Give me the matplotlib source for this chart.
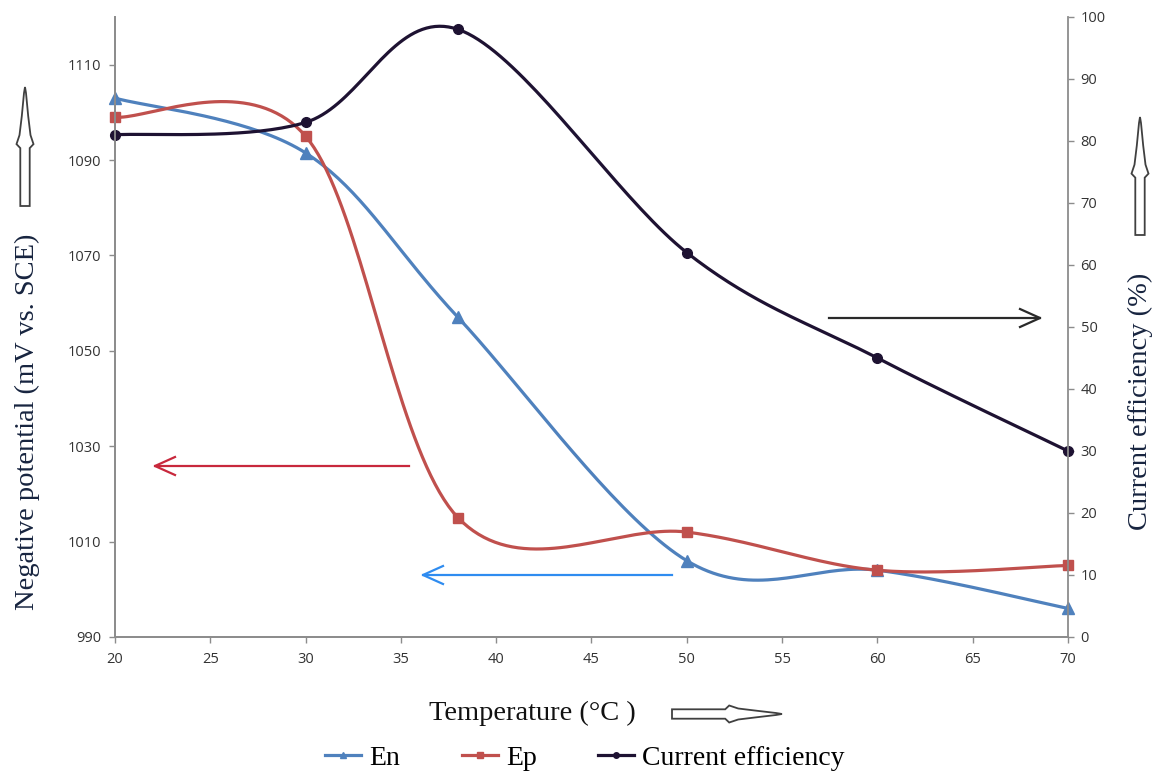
import numpy as np
import matplotlib
matplotlib.use("Agg")
import matplotlib.pyplot as plt
from matplotlib.patches import Polygon

# temperature (deg C)
temp = [20, 30, 38, 50, 60, 70]
# negative potentials, mV vs. SCE
en = [1103, 1091.5, 1057, 1006, 1004, 996]
ep = [1099, 1095, 1015, 1012, 1004, 1005]
# current efficiency, %
ce = [81, 83, 98, 62, 45, 30]

c_en = '#4F81BD'
c_ep = '#C0504D'
c_ce = '#1E1232'
serif = 'Liberation Serif'


def smooth(x, y, n=40):
    """Excel-like smoothed line: cubic bezier through each pair of points"""
    p = np.column_stack([x, y]).astype(float)
    pts = np.vstack([p[0], p, p[-1]])
    t = np.linspace(0, 1, n)[:, None]
    out = []
    for i in range(1, len(pts) - 2):
        p0, p3 = pts[i], pts[i + 1]
        p1 = p0 + (pts[i + 1] - pts[i - 1]) / 6
        p2 = p3 - (pts[i + 2] - pts[i]) / 6
        seg = ((1 - t) ** 3) * p0 + 3 * ((1 - t) ** 2) * t * p1 + 3 * (1 - t) * t ** 2 * p2 + t ** 3 * p3
        out.append(seg if i == 1 else seg[1:])
    out = np.vstack(out)
    return out[:, 0], out[:, 1]


def hollow_arrow(ax, cx, cy, length, vertical=True):
    """open block arrow with a spiky head, drawn in pixel units"""
    L = length
    hb = L * 0.52  # where the head starts
    shape = [(-4.7, 0), (-4.7, hb - 4), (-8.5, hb), (-5.5, hb + 9), (-3.2, hb + 28), (-1.0, L - 6), (0, L),
             (1.0, L - 6), (3.2, hb + 28), (5.5, hb + 9), (8.5, hb), (4.7, hb - 4), (4.7, 0)]
    if vertical:
        verts = [(cx + a, cy - b) for a, b in shape]
    else:
        verts = [(cx + b, cy + a) for a, b in shape]
    ax.add_patch(Polygon(verts, closed=True, facecolor='white', edgecolor='#404040', lw=1.3))


def line_arrow(ax, x0, x1, y, color):
    """thin line with an open arrow head pointing to x1"""
    d = np.sign(x1 - x0)
    ax.plot([x0, x1], [y, y], color=color, lw=1.6)
    ax.plot([x1 - d * 20, x1, x1 - d * 20], [y - 9, y, y + 9], color=color, lw=1.6)


fig = plt.figure(figsize=(11.62, 7.78), dpi=100)
ax = fig.add_axes([115 / 1162, 1 - 637 / 778, (1068 - 115) / 1162, (637 - 17) / 778])
ax2 = ax.twinx()

xs, ys = smooth(temp, en)
ax.plot(xs, ys, color=c_en, lw=2.3, clip_on=False)
ax.plot(temp, en, ls='none', marker='^', ms=8, color=c_en, label='En', clip_on=False)
xs, ys = smooth(temp, ep)
ax.plot(xs, ys, color=c_ep, lw=2.3, clip_on=False)
ax.plot(temp, ep, ls='none', marker='s', ms=7, color=c_ep, label='Ep', clip_on=False)
xs, ys = smooth(temp, ce)
ax2.plot(xs, ys, color=c_ce, lw=2.3, clip_on=False)
ax2.plot(temp, ce, ls='none', marker='o', ms=7, color=c_ce, label='Current efficiency', clip_on=False)

ax.set_xlim(20, 70)
ax.set_ylim(990, 1120)
ax.set_xticks(np.arange(20, 71, 5))
ax.set_yticks(np.arange(990, 1111, 20))
ax2.set_ylim(0, 100)
ax2.set_yticks(np.arange(0, 101, 10))

for a in (ax, ax2):
    for s in a.spines.values():
        s.set_color('#8C8C8C')
        s.set_linewidth(1.3)
    a.spines['top'].set_visible(False)
    a.tick_params(colors='#8C8C8C', labelcolor='#333333', labelsize=10.5, length=4, width=1)
    for lbl in a.get_xticklabels() + a.get_yticklabels():
        lbl.set_family('Open Sans')
ax.spines['right'].set_visible(False)
ax.tick_params(axis='x', pad=7)
ax.tick_params(axis='y', pad=6)
ax2.tick_params(axis='y', pad=5)

# legend below the temperature label
h = [plt.Line2D([], [], color=c_en, lw=2.3, marker='^', ms=5),
     plt.Line2D([], [], color=c_ep, lw=2.3, marker='s', ms=4),
     plt.Line2D([], [], color=c_ce, lw=2.3, marker='o', ms=4)]
fig.legend(h, ['En', 'Ep', 'Current efficiency'], loc='center', bbox_to_anchor=(585 / 1162, 1 - 758 / 778),
           ncol=3, frameon=False, handlelength=1.3, handletextpad=0.3, columnspacing=2.2,
           prop={'family': serif, 'size': 20})

# texts and arrows laid out in pixel coordinates
ov = fig.add_axes([0, 0, 1, 1])
ov.set_xlim(0, 1162)
ov.set_ylim(778, 0)
ov.axis('off')

ov.text(27, 422, 'Negative potential (mV vs. SCE)', rotation=90, ha='center', va='center',
        family=serif, fontsize=20.5, color='#17243F')
ov.text(1140, 401, 'Current efficiency (%)', rotation=90, ha='center', va='center',
        family=serif, fontsize=20.5, color='#17243F')
ov.text(532, 713, 'Temperature (°C )', ha='center', va='center', family=serif, fontsize=20.5, color='#111111')

hollow_arrow(ov, 25, 206, 119, vertical=True)
hollow_arrow(ov, 1140, 235, 118, vertical=True)
hollow_arrow(ov, 672, 714, 110, vertical=False)

line_arrow(ov, 829, 1040, 318, '#2A2A2A')
line_arrow(ov, 409, 155, 466, '#C8283C')
line_arrow(ov, 672, 423, 575, '#2F8CF0')

fig.savefig('out.png', dpi=100)
